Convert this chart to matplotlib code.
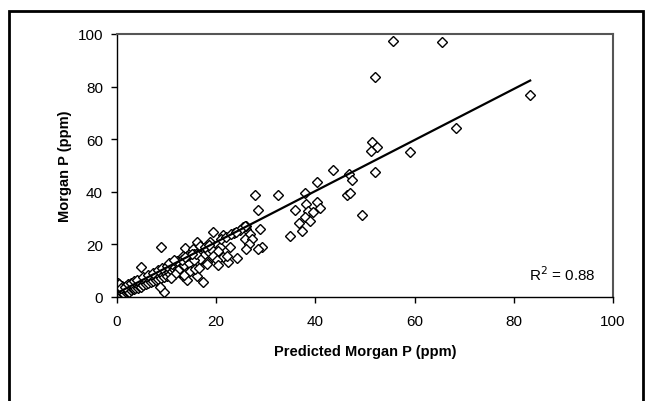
import matplotlib
matplotlib.use("Agg")
import matplotlib.pyplot as plt
import numpy as np

plt.rcParams["font.family"] = ["Liberation Sans", "DejaVu Sans"]

outlier_x = [55.7, 65.5, 52.0, 83.3, 68.3, 51.5, 52.5, 51.3, 59.1, 43.6, 46.8, 47.3,
             52.0, 46.3, 47.0, 49.3, 40.3, 37.9, 38.2, 40.3, 38.6, 39.6, 41.0, 37.9,
             38.9, 36.6, 37.2, 35.9, 34.9]
outlier_y = [97.5, 97.1, 83.8, 76.8, 64.1, 58.8, 57.1, 55.6, 55.2, 48.4, 46.8, 44.5,
             47.4, 38.9, 39.5, 31.3, 43.6, 39.5, 35.4, 36.0, 32.8, 32.2, 33.7, 30.3,
             29.0, 28.1, 25.2, 33.2, 23.1]

mid_x = [27.8, 32.4, 28.5, 26.1, 26.8, 25.8, 27.2, 26.7, 28.8, 29.2, 28.5, 26.1,
         25.5, 26.0, 25.8,
         19.4, 21.4, 16.1, 18.8, 20.8, 22.8, 13.7, 15.4, 17.4, 19.1, 20.4, 13.4,
         15.5, 17.4, 19.3, 21.4, 24.1, 14.4, 16.4, 18.1, 20.1, 22.4, 12.7, 11.4,
         20.4, 16.7, 22.1, 18.1, 16.7, 14.7, 17.4, 16.1, 13.4, 14.1, 23.5, 24.8,
         21.0, 22.0, 23.0, 24.0, 17.8, 18.6]
mid_y = [38.9, 38.9, 33.2, 25.9, 24.0, 22.1, 22.1, 20.2, 25.9, 18.9, 18.3, 18.3,
         26.5, 27.0, 27.1,
         24.6, 23.7, 20.8, 21.0, 18.9, 18.9, 18.5, 18.3, 18.5, 18.0, 17.6, 15.5,
         16.3, 15.5, 15.7, 15.1, 14.7, 13.8, 13.4, 13.2, 14.2, 13.4, 12.5, 13.2,
         12.2, 19.5, 15.7, 12.5, 14.4, 11.9, 5.8, 8.1, 8.1, 6.6, 24.5, 25.5,
         22.0, 23.0, 23.8, 24.8, 19.0, 19.8]

low_x = [0.1, 0.2, 0.3, 0.4, 0.5, 0.6, 0.7, 0.8, 0.9, 1.0, 1.1, 1.2, 1.3, 1.4, 1.5,
         1.6, 1.8, 1.9, 2.0, 2.1, 2.3, 2.4, 2.5, 2.7, 2.8, 3.0, 3.1, 3.3, 3.4, 3.6,
         3.7, 3.9, 4.0, 4.2, 4.4, 4.5, 4.7, 4.8, 5.0, 5.1, 5.3, 5.5, 5.6, 5.8, 6.0,
         6.1, 6.3, 6.5, 6.6, 6.8, 7.0, 7.1, 7.3, 7.5, 7.6, 7.8, 8.0, 8.1, 8.3, 8.5,
         8.6, 8.8, 9.0, 9.2, 9.4, 9.6, 9.8, 10.0, 10.2, 10.4, 10.6, 10.8, 11.0, 11.2,
         11.5, 11.8, 12.0, 12.3, 12.5, 12.8, 13.0, 13.5, 13.6, 14.0, 14.5, 14.8,
         15.0, 15.5, 15.8, 16.0, 16.6, 12.2, 11.6, 10.9, 0.2, 0.3, 0.1, 0.5,
         4.8, 8.9, 9.5, 8.7,
         0.9, 1.7, 2.2, 2.9, 3.5, 4.1, 5.2, 6.2, 7.2, 8.2, 9.1, 10.1, 11.1, 12.1,
         13.2, 14.2, 15.2, 10.5, 11.4, 13.8]
low_y = [0.5, 1.5, 2.5, 3.2, 1.0, 2.0, 3.8, 0.8, 2.8, 1.6, 4.0, 2.3, 3.0, 1.2, 3.6,
         2.6, 4.2, 1.9, 3.3, 2.4, 4.6, 3.0, 1.8, 3.9, 2.6, 4.4, 3.3, 5.0, 2.9, 4.1,
         3.5, 5.2, 4.6, 3.6, 5.6, 4.3, 5.0, 3.8, 6.2, 5.1, 4.6, 6.8, 5.6, 4.9, 7.0,
         6.0, 5.3, 7.4, 6.4, 5.7, 7.8, 6.8, 6.0, 8.2, 7.2, 6.5, 8.6, 7.7, 6.9, 9.0,
         8.1, 7.3, 9.4, 8.5, 7.6, 10.0, 9.0, 8.0, 10.6, 9.5, 8.6, 11.2, 10.0, 12.0,
         10.6, 12.6, 11.4, 13.3, 11.9, 9.5, 13.0, 12.0, 8.5, 14.5, 13.0, 9.8,
         15.5, 14.0, 10.5, 16.5, 11.0, 10.2, 8.8, 7.4, 4.5, 5.5, 3.8, 5.0,
         11.5, 19.1, 1.8, 3.7,
         3.4, 3.9, 4.9, 5.3, 6.0, 6.6, 7.6, 8.3, 9.1, 10.1, 10.9, 11.6, 12.5, 13.7,
         14.2, 15.6, 16.4, 12.8, 13.9, 15.3]

x = np.array(outlier_x + mid_x + low_x)
y = np.array(outlier_y + mid_y + low_y)

# linear trend line as drawn on the chart
fit_slope = 0.97
fit_intercept = 1.5
r_squared = 0.88

fig = plt.figure(figsize=(6.46, 4.02), dpi=100)
ax = fig.add_axes([117 / 646, 104 / 402, 496 / 646, 263 / 402])

ax.plot(x, y, linestyle="none", marker="D", markersize=4.6,
        markerfacecolor="white", markeredgecolor="black", markeredgewidth=1.0)

line_x = np.array([x.min(), x.max()])
ax.plot(line_x, fit_slope * line_x + fit_intercept, color="black", linewidth=1.6)

ax.set_xlim(0, 100)
ax.set_ylim(0, 100)
ax.set_xticks(np.arange(0, 101, 20))
ax.set_yticks(np.arange(0, 101, 20))
ax.tick_params(direction="out", length=4, width=1, labelsize=11)
ax.tick_params(axis="x", top=False, pad=8)
ax.tick_params(axis="y", right=False, pad=6)

for side in ["left", "bottom"]:
    ax.spines[side].set_color("black")
    ax.spines[side].set_linewidth(1.0)
for side in ["top", "right"]:
    ax.spines[side].set_color("#555555")
    ax.spines[side].set_linewidth(1.5)

ax.set_xlabel("Predicted Morgan P (ppm)", fontsize=10.5, fontweight="bold", labelpad=12)
ax.set_ylabel("Morgan P (ppm)", fontsize=10.5, fontweight="bold", labelpad=4)

ax.text(96.5, 6.5, f"R$^2$ = {r_squared:.2f}", ha="right", va="baseline", fontsize=11)

# outer chart frame
fig.patches.append(plt.Rectangle((9 / 646, -0.05), 634 / 646, 1.05 - 12 / 402,
                                 transform=fig.transFigure, fill=False,
                                 edgecolor="black", linewidth=2.0))

fig.savefig("out.png", dpi=100)
